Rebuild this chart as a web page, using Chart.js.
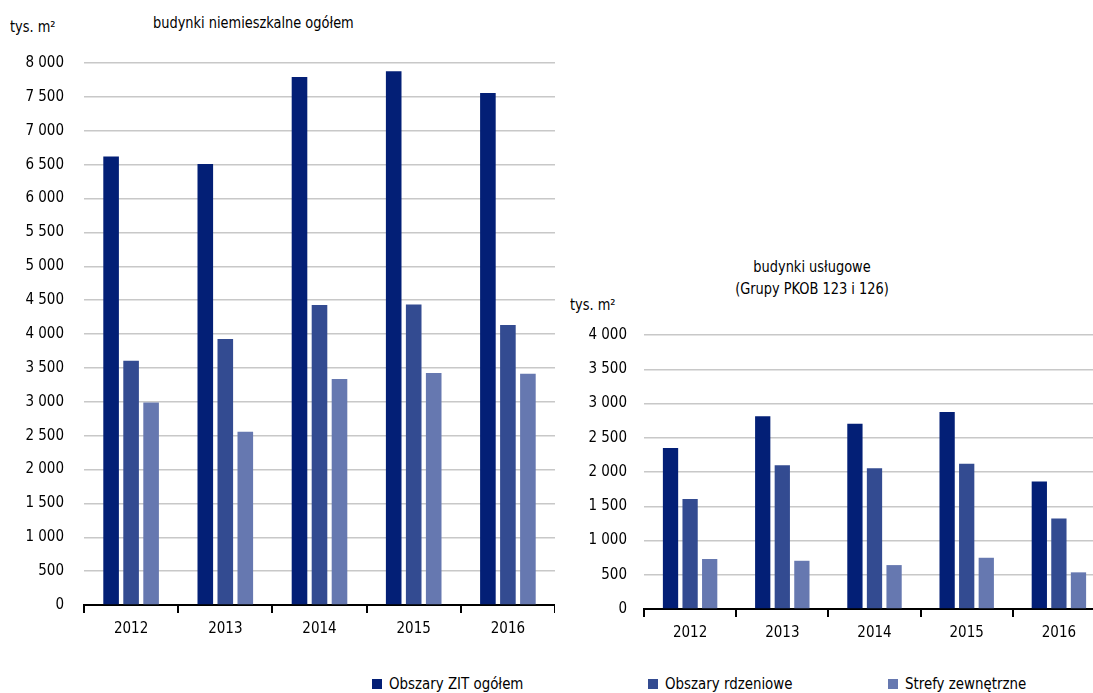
<!DOCTYPE html>
<html>
<head>
<meta charset="utf-8">
<script src="https://cdn.jsdelivr.net/npm/chart.js@4.4.1/dist/chart.umd.min.js"></script>
<style>
  html, body { margin:0; padding:0; width:1093px; height:693px; overflow:hidden; background:#fff; }
  body { position:relative; font-family:"DejaVu Sans Condensed","Liberation Sans Narrow",sans-serif; color:#000; }
  .txt { position:absolute; font-size:16px; white-space:nowrap; line-height:1; }
  #c1wrap { position:absolute; left:0; top:0; width:555px; height:655px; }
  #c2wrap { position:absolute; left:560px; top:0; width:545px; height:659px; }
  .leg { position:absolute; top:676px; font-size:16px; line-height:1; white-space:nowrap; }
  .leg .lt { display:inline-block; transform:scaleX(0.93); transform-origin:left center; }
  .leg span.sw { display:inline-block; width:10px; height:10px; margin-right:7px; vertical-align:0px; }
</style>
</head>
<body>
<div class="txt" style="left:10px; top:19px; transform:scaleX(0.9); transform-origin:left top;">tys. m²</div>
<div class="txt" style="left:153px; top:15px; transform:scaleX(0.9); transform-origin:left top;">budynki niemieszkalne ogółem</div>
<div class="txt" style="left:570px; top:297px; transform:scaleX(0.9); transform-origin:left top;">tys. m²</div>
<div class="txt" style="left:812px; top:256px; transform:translateX(-50%) scaleX(0.9); text-align:center; line-height:22px;">budynki usługowe<br>(Grupy PKOB 123 i 126)</div>

<div id="c1wrap"><canvas id="c1" width="555" height="655"></canvas></div>
<div id="c2wrap"><canvas id="c2" width="545" height="659"></canvas></div>

<div class="leg" id="leg0" style="left:372px;"></div>
<div class="leg" id="leg1" style="left:648px;"></div>
<div class="leg" id="leg2" style="left:888px;"></div>

<script>
// ---- data ----
const years = ['2012', '2013', '2014', '2015', '2016'];
const seriesNames = ['Obszary ZIT ogółem', 'Obszary rdzeniowe', 'Strefy zewnętrzne'];
const seriesColors = ['#031f76', '#334b91', '#6678b0'];

// budynki niemieszkalne ogółem (tys. m2)
const nonResZIT  = [6620, 6510, 7794, 7880, 7558];
const nonResCore = [3605, 3925, 4428, 4437, 4131];
const nonResOuter= [2990, 2558, 3335, 3423, 3413];

// budynki usługowe (Grupy PKOB 123 i 126)
const servZIT    = [2352, 2815, 2706, 2877, 1860];
const servCore   = [1607, 2098, 2056, 2122, 1321];
const servOuter  = [730, 704, 641, 748, 535];

const FONT = '"DejaVu Sans Condensed","Liberation Sans Narrow",sans-serif';

function fmt(v) {
  return String(v).replace(/\B(?=(\d{3})+(?!\d))/g, ' ');
}

function makeChart(id, data, yMax, padTop, yWidth, yPad) {
  const ctx = document.getElementById(id);
  return new Chart(ctx, {
    type: 'bar',
    data: {
      labels: years,
      datasets: data.map((d, i) => ({
        label: seriesNames[i],
        data: d,
        backgroundColor: seriesColors[i],
        borderWidth: 0,
        categoryPercentage: 0.637,
        barPercentage: 0.78
      }))
    },
    options: {
      responsive: false,
      animation: false,
      devicePixelRatio: 1,
      layout: { padding: { top: padTop, left: 0, right: 0, bottom: 0 } },
      plugins: { legend: { display: false }, title: { display: false }, tooltip: { enabled: false } },
      scales: {
        x: {
          offset: true,
          afterFit: (s) => { s.height = 50; },
          grid: { offset: true, drawOnChartArea: false, drawTicks: true, tickLength: 8, color: '#000', lineWidth: 2 },
          border: { display: true, color: '#000', width: 2 },
          ticks: { color: '#000', font: { family: FONT, size: 15 }, padding: 7 }
        },
        y: {
          min: 0, max: yMax,
          afterFit: (s) => { s.width = yWidth; },
          grid: { drawTicks: false, color: '#c8c8c8', lineWidth: 1.5 },
          border: { display: false },
          ticks: { stepSize: 500, color: '#000', padding: yPad, font: { family: FONT, size: 15 }, callback: (v) => fmt(v) }
        }
      }
    }
  });
}

makeChart('c1', [nonResZIT, nonResCore, nonResOuter], 8000, 63, 84, 20);
makeChart('c2', [servZIT, servCore, servOuter], 4000, 335, 84, 17);

// legend (HTML, from series arrays)
seriesNames.forEach((n, i) => {
  const el = document.getElementById('leg' + i);
  const sw = document.createElement('span');
  sw.className = 'sw';
  sw.style.background = seriesColors[i];
  el.appendChild(sw);
  const t = document.createElement('span');
  t.className = 'lt';
  t.textContent = n;
  el.appendChild(t);
});
</script>
</body>
</html>
